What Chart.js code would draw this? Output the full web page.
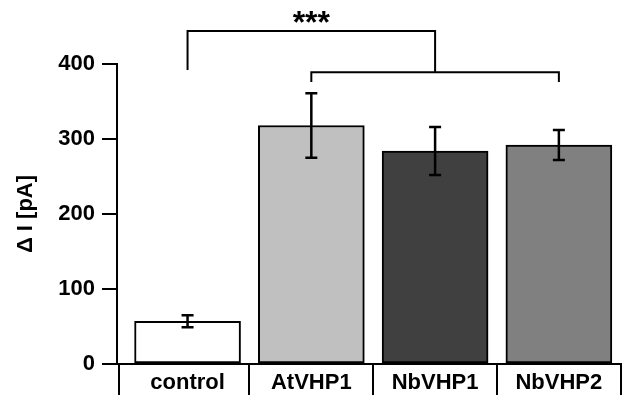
<!DOCTYPE html>
<html>
<head>
<meta charset="utf-8">
<script src="https://cdn.jsdelivr.net/npm/chart.js@4"></script>
<style>
  body { margin: 0; background: #fff; }
  #wrap { width: 622px; height: 395px; }
</style>
</head>
<body>
<div id="wrap"><canvas id="myChart"></canvas></div>
<script>
const labels = ['control', 'AtVHP1', 'NbVHP1', 'NbVHP2'];
const means = [57, 318, 284, 292];
const errs = [8, 43, 32, 20];
const fills = ['#ffffff', '#c0c0c0', '#404040', '#808080'];
const yTicks = [0, 100, 200, 300, 400];

// significance brackets, [x index, y value]
const bracketTop = [[0, 392], [0, 444], [2, 444], [2, 389]];
const bracketLow = [[1, 376], [1, 389], [3, 389], [3, 376]];
const sigLabel = '***';
const sigPos = [1, 441];

const font = '"Liberation Sans", Arial, sans-serif';

const errorBars = {
  id: 'errorBars',
  afterDatasetsDraw(chart) {
    const {ctx, scales: {x, y}} = chart;
    ctx.save();
    ctx.strokeStyle = '#000';
    ctx.lineWidth = 2.5;
    means.forEach((m, i) => {
      const px = x.getPixelForValue(i);
      const top = y.getPixelForValue(m + errs[i]);
      const bot = y.getPixelForValue(m - errs[i]);
      ctx.beginPath();
      ctx.moveTo(px, top); ctx.lineTo(px, bot);
      ctx.moveTo(px - 6, top); ctx.lineTo(px + 6, top);
      ctx.moveTo(px - 6, bot); ctx.lineTo(px + 6, bot);
      ctx.stroke();
    });
    ctx.fillStyle = '#000';
    ctx.font = 'bold 32px ' + font;
    ctx.textAlign = 'center';
    ctx.textBaseline = 'alphabetic';
    ctx.fillText(sigLabel, x.getPixelForValue(sigPos[0]), y.getPixelForValue(sigPos[1]));
    ctx.restore();
  }
};

const bracketStyle = {
  type: 'line',
  borderColor: '#000',
  borderWidth: 2,
  pointRadius: 0,
  tension: 0,
  fill: false,
  clip: false
};

const ctx = document.getElementById('myChart').getContext('2d');
const myChart = new Chart(ctx, {
  type: 'bar',
  data: {
    datasets: [{
      data: means.map((v, i) => ({x: i, y: v})),
      backgroundColor: fills,
      borderColor: '#000',
      borderWidth: 2,
      borderSkipped: false,
      barThickness: 106
    },
    Object.assign({data: bracketTop.map(p => ({x: p[0], y: p[1]}))}, bracketStyle),
    Object.assign({data: bracketLow.map(p => ({x: p[0], y: p[1]}))}, bracketStyle)]
  },
  options: {
    responsive: true,
    maintainAspectRatio: false,
    animation: false,
    layout: { padding: { top: 64, right: 0, bottom: 0, left: 0 } },
    scales: {
      x: {
        type: 'linear',
        offset: false,
        min: -0.57,
        max: 3.51,
        afterBuildTicks: s => {
          const t = [{value: -0.55}];
          labels.forEach((l, i) => {
            t.push({value: i});
            t.push({value: i + 0.5});
          });
          s.ticks = t;
        },
        afterFit: s => { s.height = 31; },
        border: { color: '#000', width: 2 },
        grid: {
          offset: false,
          drawOnChartArea: false,
          tickLength: 31,
          lineWidth: 2,
          color: c => (c.tick && Number.isInteger(c.tick.value)) ? 'rgba(0,0,0,0)' : '#000'
        },
        ticks: {
          autoSkip: false,
          maxRotation: 0,
          padding: -25,
          color: '#000',
          font: { family: font, size: 22, weight: 'bold' },
          callback: v => Number.isInteger(v) ? labels[v] : ''
        }
      },
      y: {
        min: 0,
        max: 400,
        afterBuildTicks: s => { s.ticks = yTicks.map(v => ({value: v})); },
        afterFit: s => { s.width = 117; },
        border: { color: '#000', width: 2 },
        grid: { drawOnChartArea: false, tickLength: 15, lineWidth: 2, color: '#000' },
        ticks: {
          padding: 7,
          color: '#000',
          font: { family: font, size: 22, weight: 'bold' }
        },
        title: {
          display: true,
          text: 'Δ I [pA]',
          color: '#000',
          padding: { top: 13, bottom: 0 },
          font: { family: font, size: 22, weight: 'bold' }
        }
      }
    },
    plugins: {
      legend: { display: false },
      tooltip: { enabled: false }
    }
  },
  plugins: [errorBars]
});
</script>
</body>
</html>
